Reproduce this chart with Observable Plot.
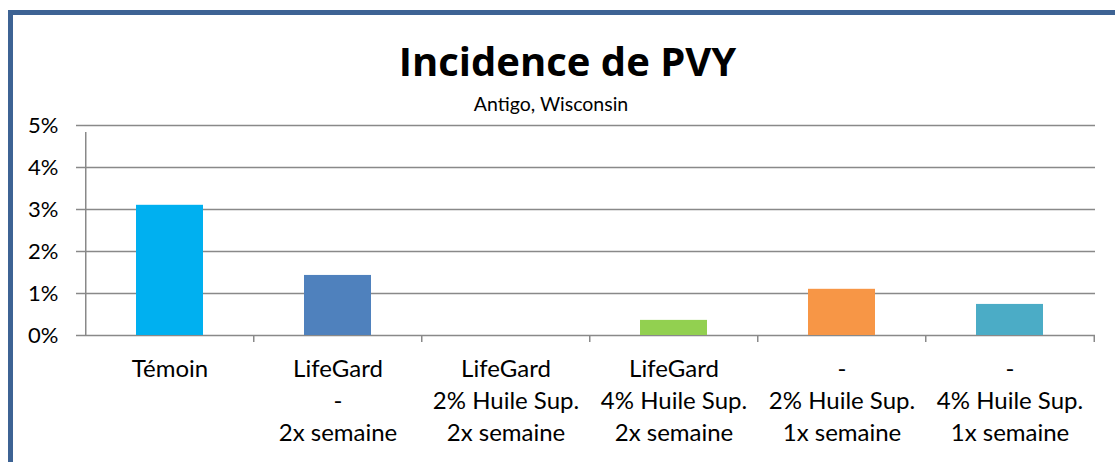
<!DOCTYPE html>
<html>
<head>
<meta charset="utf-8">
<script src="https://cdn.jsdelivr.net/npm/d3@7"></script>
<script src="https://cdn.jsdelivr.net/npm/@observablehq/plot@0.6"></script>
<style>
  html, body { margin: 0; padding: 0; background: #fff; }
  #page { position: relative; width: 1115px; height: 462px; overflow: hidden; font-family: Lato, "Open Sans", sans-serif; }
  #frame { position: absolute; left: 8px; top: 10px; width: 1300px; height: 700px; border-left: 5px solid #3d6394; border-top: 5px solid #3d6394; box-sizing: border-box; }
  #title { position: absolute; left: 0; width: 1135px; top: 37px; text-align: center; font-family: "Open Sans", Lato, sans-serif; font-weight: bold; font-size: 40px; line-height: 48px; color: #000; }
  #subtitle { position: absolute; left: 0; width: 1102px; top: 94px; text-align: center; font-size: 19.5px; line-height: 20px; color: #000; }
  #chart { position: absolute; left: 0; top: 105px; }
</style>
</head>
<body>
<div id="page">
  <div id="frame"></div>
  <div id="title">Incidence de PVY</div>
  <div id="subtitle">Antigo, Wisconsin</div>
  <div id="chart"></div>
</div>
<script>
const categories = [
  "Témoin",
  "LifeGard\n-\n2x semaine",
  "LifeGard\n2% Huile Sup.\n2x semaine",
  "LifeGard\n4% Huile Sup.\n2x semaine",
  "-\n2% Huile Sup.\n1x semaine",
  "-\n4% Huile Sup.\n1x semaine"
];
const values = [3.1, 1.43, 0, 0.36, 1.1, 0.74];
const colors = ["#00b0f0", "#4f81bd", "#c0504d", "#92d050", "#f79646", "#4bacc6"];
const yTicks = [0, 1, 2, 3, 4, 5];

const data = categories.map((c, i) => ({cat: c, value: values[i], color: colors[i]}));

const width = 1115, height = 357;
const marginLeft = 84, marginRight = 20, marginTop = 20, marginBottom = 127;
const step = (width - marginLeft - marginRight) / categories.length;
const gridColor = "#898989";
const yMax = d3.max(yTicks);

const chart = Plot.plot({
  width, height, marginLeft, marginRight, marginTop, marginBottom,
  style: {fontFamily: "Lato, 'Open Sans', sans-serif", fontSize: "22px", color: "#000", background: "transparent"},
  x: {domain: categories, paddingInner: 0.6, paddingOuter: 0.3},
  y: {domain: [0, yMax]},
  color: {type: "identity"},
  marks: [
    Plot.gridY(yTicks, {stroke: gridColor, strokeOpacity: 1, strokeWidth: 1.5}),
    Plot.axisY(yTicks, {tickFormat: d => d + "%", tickSize: 8, tickPadding: 18, stroke: gridColor, strokeWidth: 1.5, fontSize: 22, label: null}),
    Plot.barY(data, {x: "cat", y: "value", fill: "color"}),
    Plot.ruleX(categories, {x: d => d, y1: 0, y2: (d, i) => i === 0 ? yMax : 0, dx: -step / 2, insetBottom: -7, stroke: gridColor, strokeWidth: 1.5}),
    Plot.ruleX(categories.slice(-1), {x: d => d, y1: 0, y2: 0, dx: step / 2, insetBottom: -7, stroke: gridColor, strokeWidth: 1.5}),
    Plot.axisX({tickSize: 0, tickPadding: 19, fontSize: 24, lineHeight: 1.33, label: null})
  ]
});
document.getElementById("chart").appendChild(chart);
</script>
</body>
</html>
